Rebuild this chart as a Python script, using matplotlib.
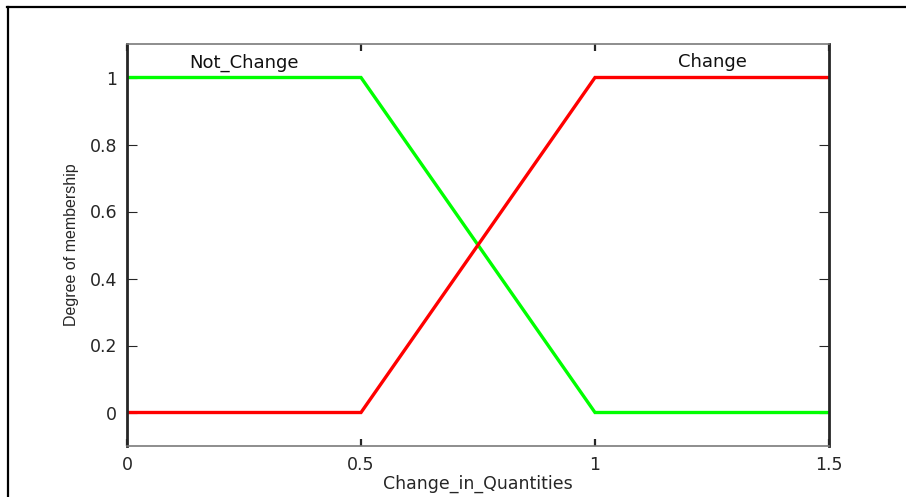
import matplotlib
matplotlib.use("Agg")
import matplotlib.pyplot as plt
from matplotlib.lines import Line2D

# Membership functions for the input variable
x_not_change = [0, 0.5, 1, 1.5]
y_not_change = [1, 1, 0, 0]
x_change = [0, 0.5, 1, 1.5]
y_change = [0, 0, 1, 1]

mf_names = ["Not_Change", "Change"]
mf_label_x = [0.25, 1.25]
mf_label_y = [1.045, 1.045]

x_ticks = [0, 0.5, 1, 1.5]
x_ticklabels = ["0", "0.5", "1", "1.5"]
y_ticks = [0, 0.2, 0.4, 0.6, 0.8, 1]
y_ticklabels = ["0", "0.2", "0.4", "0.6", "0.8", "1"]

plt.rcParams["font.family"] = ["DejaVu Sans"]

fig = plt.figure(figsize=(9.06, 4.97), dpi=100)
ax = fig.add_axes([127 / 906, 1 - 446 / 497, 702 / 906, 402 / 497])

ax.plot(x_not_change, y_not_change, color="#00ff00", lw=2.4, solid_joinstyle="miter")
ax.plot(x_change, y_change, color="#ff0000", lw=2.4, solid_joinstyle="miter")

for name, tx, ty in zip(mf_names, mf_label_x, mf_label_y):
    ax.text(tx, ty, name, ha="center", va="center", fontsize=13, color="#111111")

ax.set_xlim(0, 1.5)
ax.set_ylim(-0.1, 1.1)
ax.set_xticks(x_ticks)
ax.set_xticklabels(x_ticklabels)
ax.set_yticks(y_ticks)
ax.set_yticklabels(y_ticklabels)

ax.tick_params(axis="both", direction="in", labelsize=12.5, colors="#262626",
               labelcolor="#262626")
ax.tick_params(axis="x", top=True, length=5, width=1.6, pad=7)
ax.tick_params(axis="y", right=True, length=7, width=0.8, pad=7)

for side in ("left", "right"):
    ax.spines[side].set_linewidth(2.0)
    ax.spines[side].set_color("#262626")
for side in ("top", "bottom"):
    ax.spines[side].set_linewidth(1.2)
    ax.spines[side].set_color("#7a7a7a")

ax.set_xlabel("Change_in_Quantities", fontsize=12.5, color="#262626", labelpad=1)
ax.set_ylabel("Degree of membership", fontsize=11.5, color="#262626",
              labelpad=8, family="Liberation Sans")

# Page frame around the figure
fig.add_artist(Line2D([7.5 / 906, 7.5 / 906], [0, 1 - 6.5 / 497],
                      transform=fig.transFigure, color="black", lw=1.6))
fig.add_artist(Line2D([7 / 906, 1], [1 - 6.5 / 497, 1 - 6.5 / 497],
                      transform=fig.transFigure, color="black", lw=1.6))

fig.savefig("out.png", dpi=100)
